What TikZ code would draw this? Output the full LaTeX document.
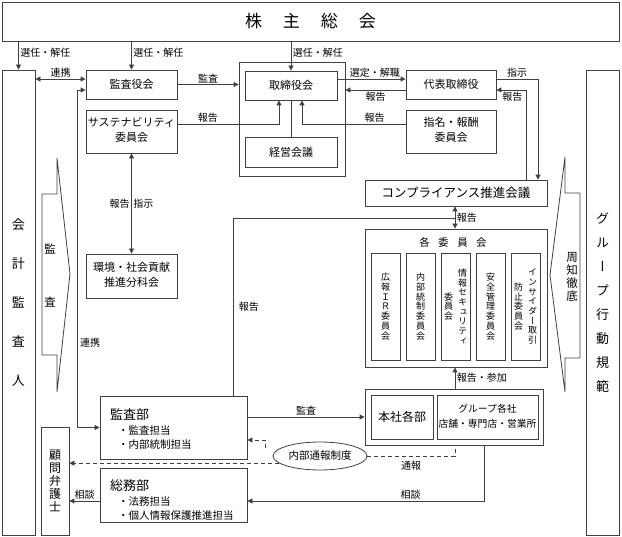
\documentclass[tikz,border=0pt]{standalone}
\usepackage{fontspec}
\setmainfont{Noto Sans CJK JP}
\newfontfamily\tatefont{Noto Sans CJK JP}[RawFeature=+vert]
\usetikzlibrary{arrows.meta,shapes.geometric}
\newcommand{\tate}[1]{\parbox[c]{1em}{\centering #1}}
\newcommand{\gyou}[1]{\begin{tabular}[c]{@{}c@{}}#1\end{tabular}}

\begin{document}
\begin{tikzpicture}[x=1pt,y=-1pt,
  box/.style 2 args={draw=black!75,line width=0.8pt,inner sep=0pt,minimum width=#1,minimum height=#2,font=\fontsize{11}{15}\selectfont},
  lbl/.style={inner sep=1.5pt,font=\fontsize{10}{12}\selectfont},
  con/.style={draw=black!75,line width=0.8pt},
  arr/.style={con,-{Triangle[length=5pt,width=5pt]}},
  darr/.style={con,{Triangle[length=5pt,width=5pt]}-{Triangle[length=5pt,width=5pt]}},
  tsu/.style={dash pattern=on 4pt off 3pt}]
\useasboundingbox (0,0) rectangle (622,537);

\node[box={617}{39},font=\fontsize{17}{20}\selectfont] (soukai) at (310.5,21.5) {株\hspace{21pt}主\hspace{21pt}総\hspace{21pt}会};
\node[box={33}{465},font=\fontsize{13}{39}\selectfont] (kaikei) at (18.5,302.5) {\tate{会\\計\\監\\査\\人}};
\node[box={33}{465},font=\tatefont\fontsize{13}{24}\selectfont] (group) at (602.5,302.5) {\tate{グ\\ル\\ー\\プ\\行\\動\\規\\範}};

\node[box={91}{29}] (kansa) at (131.5,84.5) {監査役会};
\node[box={91}{43}] (susta) at (131.5,131.5) {\gyou{サステナビリティ\\委員会}};
\node[box={91}{44}] (kankyo) at (131.5,276) {\gyou{環境・社会貢献\\推進分科会}};
\node[box={106}{114}] (torifr) at (292,119) {};
\node[box={92}{29}] (tori) at (291,85.5) {取締役会};
\node[box={92}{30}] (keiei) at (291,152) {経営会議};
\node[box={90}{29}] (daihyo) at (451,84.5) {代表取締役};
\node[box={90}{43}] (shimei) at (451,131.5) {\gyou{指名・報酬\\委員会}};
\node[box={182}{26},font=\fontsize{12.5}{15}\selectfont] (comp) at (456,193) {コンプライアンス推進会議};

\node[box={182}{138}] (kakuiin) at (456,298) {};
\node[font=\fontsize{10.5}{12}\selectfont] (kakuT) at (453,242) {各\hspace{8.5pt}委\hspace{8.5pt}員\hspace{8.5pt}会};
\foreach \i/\txt in {
  0/{\tate{広\\報\\Ｉ\\Ｒ\\委\\員\\会}},
  1/{\tate{内\\部\\統\\制\\委\\員\\会}},
  2/{\tate{委\\員\\会}\hspace{5pt}\tate{情\\報\\セ\\キ\\ュ\\リ\\テ\\ィ}},
  3/{\tate{安\\全\\管\\理\\委\\員\\会}},
  4/{\tate{防\\止\\委\\員\\会}\hspace{5pt}\tate{イ\\ン\\サ\\イ\\ダ\\ー\\取\\引}}}
{
  \node[box={29}{107},font=\tatefont\fontsize{9}{9.7}\selectfont] (iin\i) at (385.5+35*\i,306.5) {\txt};
}

\node[box={178}{56}] (honfr) at (454,417) {};
\node[box={62}{44},font=\fontsize{12}{14}\selectfont] (honsha) at (402,417) {本社各部};
\node[box={101}{44},font=\fontsize{9.8}{15}\selectfont] (gsha) at (487.5,417) {\gyou{グループ各社\\店舗・専門店・営業所}};

\node[box={147}{63}] (kansabu) at (173.5,427.5) {};
\node[anchor=west,inner sep=0pt,font=\fontsize{13}{15}\selectfont] (kansabuT) at (110,415) {監査部};
\node[anchor=west,inner sep=0pt,font=\fontsize{10.5}{14}\selectfont] (kansabu1) at (118,431) {・監査担当};
\node[anchor=west,inner sep=0pt,font=\fontsize{10.5}{14}\selectfont] (kansabu2) at (118,445) {・内部統制担当};
\node[box={147}{54}] (soumu) at (173.5,495) {};
\node[anchor=west,inner sep=0pt,font=\fontsize{13}{15}\selectfont] (soumuT) at (110,486) {総務部};
\node[anchor=west,inner sep=0pt,font=\fontsize{10.5}{14}\selectfont] (soumu1) at (118,502) {・法務担当};
\node[anchor=west,inner sep=0pt,font=\fontsize{10.5}{14}\selectfont] (soumu2) at (118,516) {・個人情報保護推進担当};
\node[box={28}{108},font=\fontsize{12}{13}\selectfont] (komon) at (55,481) {\tate{顧\\問\\弁\\護\\士}};
\node[ellipse,draw=black!75,line width=0.8pt,minimum width=94,minimum height=28,inner sep=0pt,font=\fontsize{10.5}{12}\selectfont] (tsuho) at (320,456) {内部通報制度};

% big arrows
\draw[con] (42,194) -- (57,194) -- (57,158) -- (70,274) -- (57,392) -- (57,355) -- (42,355) -- cycle;
\node[font=\fontsize{11.5}{53}\selectfont] (kansaT) at (50,276) {\tate{監\\査}};
\draw[con] (580,193) -- (565,193) -- (565,157) -- (550,275) -- (565,392) -- (565,358) -- (580,358) -- cycle;
\node[font=\fontsize{11.5}{13}\selectfont] (shuchiT) at (572,277) {\tate{周\\知\\徹\\底}};

\coordinate (y79) at (0,79);
\coordinate (y90) at (0,90);
\coordinate (y124) at (0,124);
\coordinate (y218) at (0,218);
\coordinate (y440) at (0,440);
\coordinate (y501) at (0,501);
\coordinate (x77) at (77,0);
\coordinate (x233) at (233,0);
\coordinate (x279) at (279,0);
\coordinate (x302) at (302,0);
\coordinate (x455) at (455,0);
\coordinate (x484) at (484,0);
\coordinate (x526) at (526,0);
\coordinate (x538) at (538,0);
\coordinate (tsuend) at (265,448);

\draw[arr] (kaikei.north |- soukai.south) -- node[lbl,right,pos=0.4] (l1) {選任・解任} (kaikei.north);
\draw[arr] (kansa.north |- soukai.south) -- node[lbl,right,pos=0.4] (l2) {選任・解任} (kansa.north);
\draw[arr] (tori.north |- soukai.south) -- node[lbl,right,pos=0.4] (l3) {選任・解任} (tori.north);
\draw[darr] (kaikei.east |- y79) -- node[lbl,above] (l4) {連携} (kansa.west |- y79);
\draw[arr] (kansa.east) -- node[lbl,above] (l5) {監査} (kansa.east -| torifr.west);
\draw[arr] (susta.east |- y124) -| node[lbl,above,pos=0.15] (l6) {報告} (x279 |- tori.south);
\draw[arr] (shimei.west |- y124) -| node[lbl,above,pos=0.15] (l7) {報告} (x302 |- tori.south);
\draw[con] (tori.south) -- (keiei.north);
\draw[arr] (tori.east |- y79) -- node[lbl,above,pos=0.55] (l8) {選定・解職} (daihyo.west |- y79);
\draw[arr] (daihyo.west |- y90) -- node[lbl,below] (l9) {報告} (torifr.east |- y90);
\draw[arr] (daihyo.east |- y79) -| node[lbl,above,pos=0.25] (l10) {指示} (x538 |- comp.north);
\draw[arr] (x526 |- comp.north) |- node[lbl,below,pos=0.73] (l11) {報告} (daihyo.east |- y90);
\draw[darr] (susta.south) -- node[lbl,left] (l12) {報告} node[lbl,right] (l13) {指示} (kankyo.north);
\draw[darr] (x455 |- comp.south) -- node[lbl,right] (l14) {報告} (x455 |- kakuiin.north);
\draw[con] (x233 |- kansabu.north) |- node[lbl,right=4pt,pos=0.25] (l15) {報告} (x455 |- y218);
\draw[darr] (kansabu.west) -| (x77 |- y90) -- (kansa.west |- y90);
\node[lbl] (l16) at (90,343) {連携};
\draw[arr] (kansabu.east |- honfr.west) -- node[lbl,above] (l17) {監査} (honfr.west);
\draw[arr] (x455 |- honfr.north) -- node[lbl,right] (l18) {報告・参加} (x455 |- kakuiin.south);
\draw[arr,tsu] (tsuho.190) -- (komon.east |- tsuho.190);
\draw[arr,tsu] (tsuend) |- (kansabu.east |- y440);
\draw[con,tsu] (tsuho.east) -| node[lbl,below=3pt,pos=0.25] (l19) {通報} (x455 |- honfr.south);
\draw[arr] (x484 |- honfr.south) |- node[lbl,above,pos=0.655] (l20) {相談} (soumu.east |- y501);
\draw[arr] (soumu.west |- y501) -- node[lbl,above] (l21) {相談} (komon.east |- y501);
\end{tikzpicture}
\end{document}
